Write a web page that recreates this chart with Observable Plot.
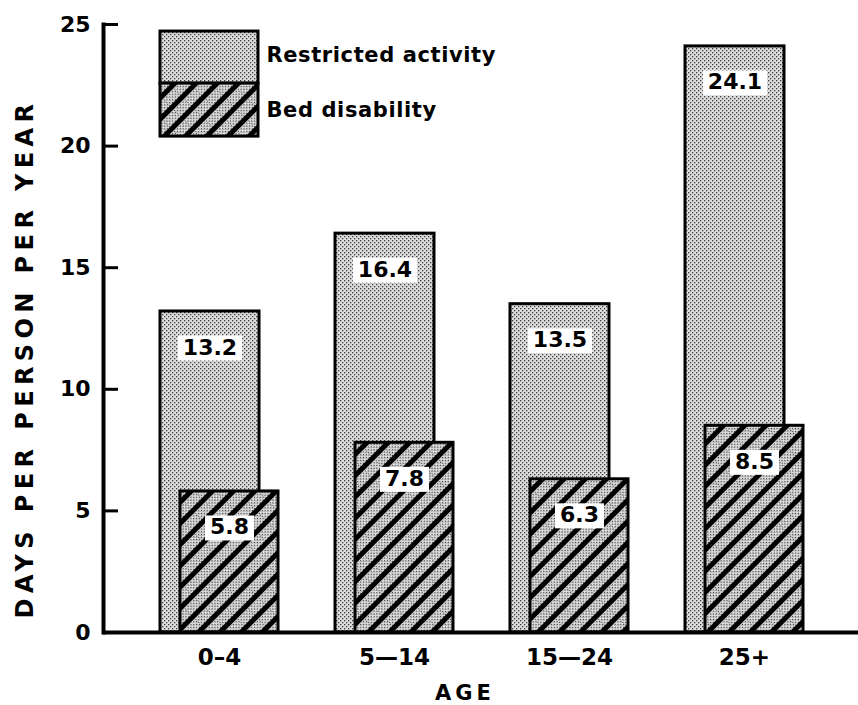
<!DOCTYPE html>
<html><head><meta charset="utf-8">
<script src="https://cdn.jsdelivr.net/npm/d3@7"></script>
<script src="https://cdn.jsdelivr.net/npm/@observablehq/plot@0.6"></script>
<style>body{margin:0;background:#fff} svg{display:block}</style>
</head><body><div id="chart"></div>
<script>
const ages = ["0-4", "5-14", "15-24", "25+"];
const ageLabels = ["0–4", "5—14", "15—24", "25+"];
const restricted = [13.2, 16.4, 13.5, 24.1];
const bed = [5.8, 7.8, 6.3, 8.5];
const yTicks = [0, 5, 10, 15, 20, 25];
const seriesNames = ["Restricted activity", "Bed disability"];
const yTitle = "DAYS PER PERSON PER YEAR";
const xTitle = "AGE";

const rows = ages.map((a, i) => ({age: a, restricted: restricted[i], bed: bed[i]}));

const W = 858, H = 705, ML = 103, MR = 0, MT = 24, MB = 73;
const FONT = "DejaVu Sans";

const svg = Plot.plot({
  width: W, height: H,
  marginLeft: ML, marginRight: MR, marginTop: MT, marginBottom: MB,
  style: {fontFamily: FONT, fontWeight: "bold", background: "white", color: "black"},
  x: {domain: ages, range: [159, 803], paddingInner: 0.327, paddingOuter: 0, align: 0.5},
  y: {domain: [0, 25]},
  marks: [
    // bars
    Plot.barY(rows, {x: "age", y: "restricted", fill: "url(#stipple)", stroke: "black", strokeWidth: 3, insetRight: 19}),
    Plot.barY(rows, {x: "age", y: "bed", fill: "url(#hatch)", stroke: "black", strokeWidth: 3, insetLeft: 20}),
    // value labels
    Plot.text(rows, {x: "age", y: "restricted", text: d => d.restricted.toFixed(1), dx: -9.5, dy: 36, fontSize: 22, fontWeight: "bold", fill: "black", className: "vlab"}),
    Plot.text(rows, {x: "age", y: "bed", text: d => d.bed.toFixed(1), dx: 10, dy: 36, fontSize: 22, fontWeight: "bold", fill: "black", className: "vlab"}),
    // legend
    Plot.barY([seriesNames[0]], {x: () => ages[0], y1: 22.57, y2: 24.71, fill: "url(#stipple)", stroke: "black", strokeWidth: 3, insetRight: 20}),
    Plot.barY([seriesNames[1]], {x: () => ages[0], y1: 20.39, y2: 22.57, fill: "url(#hatch)", stroke: "black", strokeWidth: 3, insetRight: 20}),
    Plot.text(seriesNames, {x: () => ages[0], y: (d, i) => [23.72, 21.46][i], text: d => d, textAnchor: "start", dx: 47, fontSize: 21, fontWeight: "bold", fill: "black", className: "leg"}),
    // axes
    Plot.axisY({ticks: yTicks, tickSize: 0, tickPadding: 13, fontSize: 22, fontWeight: "bold", label: null}),
    Plot.ruleY(yTicks.filter(v => v > 0), {strokeWidth: 3, insetRight: W - ML - MR - 15}),
    Plot.frame({anchor: "left", strokeWidth: 4}),
    Plot.ruleY([0], {strokeWidth: 4}),
    Plot.axisX({tickSize: 0, tickPadding: 16, fontSize: 23, fontWeight: "bold", label: null, tickFormat: d => ageLabels[ages.indexOf(d)], className: "xlab"}),
    Plot.text([yTitle], {frameAnchor: "left", textAnchor: "middle", lineAnchor: "middle", dx: -78, dy: 30, rotate: -90, fontSize: 24, fontWeight: "bold", fill: "black", className: "ytitle"}),
    Plot.text([xTitle], {frameAnchor: "bottom", textAnchor: "middle", lineAnchor: "middle", dx: -16, dy: 61, fontSize: 21, fontWeight: "bold", fill: "black", className: "xtitle"})
  ]
});

document.getElementById("chart").append(svg);

const root = d3.select(svg);
const defs = root.insert("defs", ":first-child");
const st = defs.append("pattern").attr("id", "stipple").attr("patternUnits", "userSpaceOnUse").attr("width", 4).attr("height", 4);
st.append("rect").attr("width", 4).attr("height", 4).attr("fill", "#dedede");
st.append("rect").attr("x", 0).attr("y", 0).attr("width", 1.3).attr("height", 1.3).attr("fill", "#3a3a3a");
st.append("rect").attr("x", 2).attr("y", 2).attr("width", 1.3).attr("height", 1.3).attr("fill", "#3a3a3a");
const ht = defs.append("pattern").attr("id", "hatch").attr("patternUnits", "userSpaceOnUse").attr("width", 15).attr("height", 15).attr("patternTransform", "rotate(45)");
ht.append("rect").attr("width", 15).attr("height", 15).attr("fill", "url(#stipple)");
ht.append("rect").attr("x", 0).attr("y", 0).attr("width", 5).attr("height", 15).attr("fill", "black");

root.selectAll("g.ytitle text").attr("letter-spacing", "5.4px");
root.selectAll("g.xtitle text").attr("letter-spacing", "4px");
root.selectAll("g.leg text").attr("letter-spacing", "0.6px");

root.selectAll("g.vlab text").each(function() {
  const b = this.getBBox();
  const r = document.createElementNS("http://www.w3.org/2000/svg", "rect");
  r.setAttribute("x", b.x - 5);
  r.setAttribute("y", b.y + 1);
  r.setAttribute("width", b.width + 10);
  r.setAttribute("height", b.height);
  r.setAttribute("fill", "white");
  const t = this.getAttribute("transform");
  if (t) r.setAttribute("transform", t);
  this.parentNode.insertBefore(r, this);
});
</script>
</body></html>
